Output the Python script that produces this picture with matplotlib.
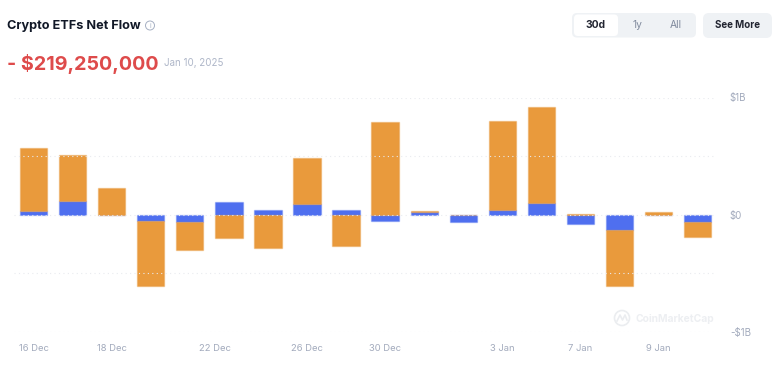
import matplotlib
matplotlib.use('Agg')
import matplotlib.pyplot as plt
from matplotlib.patches import FancyBboxPatch, Circle

# values in $B
blue_values = [0.035, 0.115, 0.0, -0.051, -0.066, 0.105, 0.043, 0.091, 0.037,
               -0.051, 0.023, -0.066, 0.043, 0.102, -0.079, -0.134, 0.0, -0.060]
orange_values = [0.532, 0.396, 0.226, -0.558, -0.233, -0.196, -0.286, 0.395, -0.270,
                 0.793, 0.009, 0.0, 0.756, 0.814, 0.009, -0.477, 0.023, -0.130]
x_tick_pos = [0, 2, 4.65, 7, 9, 12, 14, 16]
x_tick_labels = ['16 Dec', '18 Dec', '22 Dec', '26 Dec', '30 Dec', '3 Jan', '7 Jan', '9 Jan']
y_ticks = [-1, -0.5, 0, 0.5, 1]
y_tick_labels = ['-$1B', '', '$0', '', '$1B']

plt.rcParams['font.family'] = ['Inter', 'DejaVu Sans']

W, H = 783, 378
BLUE = '#4F6FEF'
ORANGE = '#E99A3C'
GREY = '#A3ABBD'

fig = plt.figure(figsize=(W / 100, H / 100), dpi=100, facecolor='white')

# Chart area
ax = fig.add_axes([14 / W, 1 - 332 / H, (716 - 14) / W, (332 - 97.5) / H])
ax.set_xlim(-0.5, 17.47)
ax.set_ylim(-1, 1)

xs = list(range(len(blue_values)))
orange_bottom = [b if b * o > 0 else 0 for b, o in zip(blue_values, orange_values)]
ax.bar(xs, blue_values, width=0.70, color=BLUE, edgecolor=(0.31, 0.44, 0.94, 0.35), linewidth=1, zorder=2)
ax.bar(xs, orange_values, bottom=orange_bottom, width=0.70, color=ORANGE,
       edgecolor=(0.91, 0.60, 0.24, 0.4), linewidth=1, zorder=2)

for y in y_ticks:
    ax.axhline(y, color='#E9EBEF', lw=0.8, linestyle=(0, (1, 3)), zorder=3)

for s in ax.spines.values():
    s.set_visible(False)
ax.set_xticks(x_tick_pos)
ax.set_xticklabels(x_tick_labels)
ax.yaxis.tick_right()
ax.set_yticks(y_ticks)
ax.set_yticklabels(y_tick_labels)
ax.tick_params(axis='x', length=0, pad=8.5, labelsize=6.8, labelcolor=GREY)
ax.tick_params(axis='y', length=0, pad=10, labelsize=7, labelcolor=GREY)
ax.patch.set_alpha(0)

# Overlay in pixel coordinates for the header and watermark
ov = fig.add_axes([0, 0, 1, 1], zorder=5)
ov.set_xlim(0, W)
ov.set_ylim(H, 0)
ov.axis('off')
ov.patch.set_alpha(0)

ov.text(7, 26, 'Crypto ETFs Net Flow', fontsize=9.15, fontweight='bold', color='#111827', va='center')
ov.add_patch(Circle((150, 25.5), 4.5, fill=False, ec='#A6B0C3', lw=0.7))
ov.text(150, 25.7, 'i', fontsize=5, color='#A6B0C3', ha='center', va='center')
ov.text(7, 64, '- $219,250,000', fontsize=14.2, fontweight='bold', color='#DE4B4B', va='center')
ov.text(164, 63.5, 'Jan 10, 2025', fontsize=7, color='#AEB6C8', va='center')

# Range buttons
ov.add_patch(FancyBboxPatch((572, 13), 124, 24.5, boxstyle='round,pad=0,rounding_size=5', fc='#EFF2F5', ec='none'))
ov.add_patch(FancyBboxPatch((574, 14.5), 44, 21.5, boxstyle='round,pad=0,rounding_size=4', fc='white', ec='none'))
ov.add_patch(FancyBboxPatch((703, 13), 69, 25, boxstyle='round,pad=0,rounding_size=6', fc='#EFF2F5', ec='none'))
ov.text(596, 25, '30d', fontsize=7.4, fontweight='bold', color='#222531', ha='center', va='center')
ov.text(637.5, 25, '1y', fontsize=7.4, color='#808A9D', ha='center', va='center')
ov.text(676, 25, 'All', fontsize=7.4, color='#808A9D', ha='center', va='center')
ov.text(737.5, 25, 'See More', fontsize=7, fontweight='bold', color='#222531', ha='center', va='center')

# Watermark
ov.add_patch(Circle((622, 318), 7.5, fill=False, ec='#EBEDF0', lw=1.2))
ov.plot([617, 620, 622.5, 625, 627], [321, 315, 320, 315, 320], color='#EBEDF0', lw=1.2)
ov.text(636, 318.5, 'CoinMarketCap', fontsize=7.4, fontweight='bold', color='#EDEFF2', va='center')

fig.savefig('out.png', dpi=100)
